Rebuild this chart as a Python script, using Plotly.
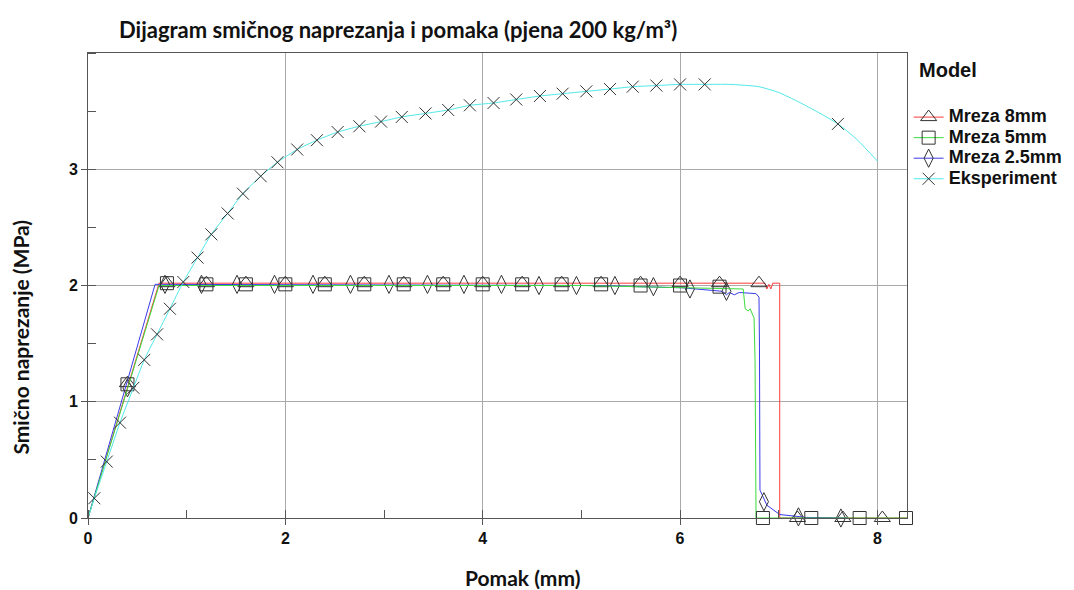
import plotly.graph_objects as go

# ---------------- data ----------------
# Mreza 8mm (red line, triangle markers)
m8_line_x = [0, 0.72, 6.86, 6.88, 6.90, 6.92, 6.94, 6.96, 7.01, 7.01, 8.3]
m8_line_y = [0, 2.02, 2.02, 1.97, 2.01, 1.97, 2.02, 2.02, 2.02, 0.0, 0.0]
m8_mark_x = [0.4, 0.8, 1.2, 1.6, 2.0, 2.4, 2.8, 3.2, 3.6, 4.0, 4.4, 4.8, 5.2, 5.6, 6.0, 6.4, 6.8, 7.19, 7.65, 8.05]
m8_mark_y = [1.16, 2.02, 2.02, 2.02, 2.02, 2.02, 2.02, 2.02, 2.02, 2.02, 2.02, 2.02, 2.02, 2.02, 2.02, 2.02, 2.02, 0.0, 0.0, 0.0]

# Mreza 5mm (green line, square markers)
m5_line_x = [0, 0.72, 5.0, 6.1, 6.64, 6.66, 6.69, 6.71, 6.73, 6.75, 6.76, 6.77, 8.3]
m5_line_y = [0, 2.0, 2.0, 1.98, 1.97, 1.80, 1.78, 1.80, 1.76, 1.72, 1.36, 0.0, 0.0]
m5_mark_x = [0.4, 0.8, 1.2, 1.6, 2.0, 2.4, 2.8, 3.2, 3.6, 4.0, 4.4, 4.8, 5.2, 5.6, 6.0, 6.4, 6.84, 7.33, 7.82, 8.29]
m5_mark_y = [1.15, 2.02, 2.01, 2.01, 2.01, 2.01, 2.01, 2.01, 2.01, 2.01, 2.01, 2.01, 2.01, 2.0, 2.0, 1.99, 0.0, 0.0, 0.0, 0.0]

# Mreza 2.5mm (blue line, diamond markers)
m25_line_x = [0, 0.35, 0.68, 5.2, 6.03, 6.43, 6.47, 6.50, 6.55, 6.60, 6.77, 6.80, 6.805, 6.81, 6.88, 7.01, 7.28, 7.7]
m25_line_y = [0, 1.03, 2.01, 2.0, 1.98, 1.95, 1.92, 1.94, 1.92, 1.94, 1.93, 1.90, 1.47, 0.24, 0.11, 0.03, 0.005, 0.0]
m25_mark_x = [0.4, 0.78, 1.15, 1.51, 1.89, 2.28, 2.66, 3.05, 3.44, 3.81, 4.19, 4.57, 4.95, 5.34, 5.73, 6.10, 6.47, 6.85, 7.2, 7.63]
m25_mark_y = [1.12, 2.01, 2.01, 2.01, 2.01, 2.01, 2.01, 2.01, 2.01, 2.01, 2.01, 2.0, 2.0, 2.0, 1.99, 1.97, 1.95, 0.14, 0.01, 0.0]

# Eksperiment (cyan line, x markers)
exp_line_x = [0, 0.064, 0.19, 0.324, 0.46, 0.57, 0.70, 0.83, 0.966, 1.11, 1.25, 1.415, 1.57, 1.75, 1.92, 2.12,
              2.32, 2.53, 2.75, 2.97, 3.18, 3.42, 3.65, 3.87, 4.11, 4.34, 4.58, 4.81, 5.05, 5.29, 5.52, 5.76,
              6.0, 6.25, 6.5, 6.8, 7.0, 7.2, 7.4, 7.6, 7.8, 8.0]
exp_line_y = [0, 0.17, 0.485, 0.82, 1.12, 1.36, 1.58, 1.80, 2.03, 2.24, 2.44, 2.62, 2.79, 2.94, 3.06, 3.17,
              3.25, 3.32, 3.37, 3.41, 3.45, 3.48, 3.51, 3.55, 3.57, 3.60, 3.63, 3.65, 3.67, 3.69, 3.71, 3.72,
              3.73, 3.73, 3.73, 3.71, 3.66, 3.58, 3.49, 3.39, 3.25, 3.07]
exp_mark_x = [0.064, 0.19, 0.324, 0.46, 0.57, 0.70, 0.83, 0.966, 1.11, 1.25, 1.415, 1.57, 1.75, 1.92, 2.12,
              2.32, 2.53, 2.75, 2.97, 3.18, 3.42, 3.65, 3.87, 4.11, 4.34, 4.58, 4.81, 5.05, 5.29, 5.52, 5.76,
              6.0, 6.25, 7.6]
exp_mark_y = [0.17, 0.485, 0.82, 1.12, 1.36, 1.58, 1.80, 2.03, 2.24, 2.44, 2.62, 2.79, 2.94, 3.06, 3.17,
              3.25, 3.32, 3.37, 3.41, 3.45, 3.48, 3.51, 3.55, 3.57, 3.60, 3.63, 3.65, 3.67, 3.69, 3.71, 3.72,
              3.73, 3.73, 3.39]

series_names = ["Mreza 8mm", "Mreza 5mm", "Mreza 2.5mm", "Eksperiment"]
x_tick_vals = [0, 2, 4, 6, 8]
y_tick_vals = [0, 1, 2, 3]

# ---------------- style ----------------
RED, GREEN, BLUE, CYAN = "#ff3b3b", "#3bdc3b", "#3b3bea", "#4fe8e8"
MK = "#333333"
TITLE_FONT = "Lato, 'Open Sans', sans-serif"
TICK_FONT = "'Liberation Sans', Arial, sans-serif"

fig = go.Figure()

def legend_label(name):
    return "<span style='font-size:18px;font-weight:bold'>" + name + "</span>"

def add_series(name, lx, ly, mx, my, color, symbol, size, rank, spline=False):
    fig.add_trace(go.Scatter(x=lx, y=ly, mode="lines",
                             line=dict(color=color, width=1, shape="spline" if spline else "linear",
                                       smoothing=0.6),
                             showlegend=False, hoverinfo="skip", cliponaxis=False))
    fig.add_trace(go.Scatter(x=mx, y=my, mode="markers", showlegend=False, cliponaxis=False,
                             marker=dict(symbol=symbol, size=size, color=MK,
                                         line=dict(color=MK, width=1))))
    fig.add_trace(go.Scatter(x=[None], y=[None], mode="lines+markers", name=legend_label(name),
                             legendrank=rank,
                             line=dict(color=color, width=1),
                             marker=dict(symbol=symbol, size=size, color=MK,
                                         line=dict(color=MK, width=1))))

add_series(series_names[0], m8_line_x, m8_line_y, m8_mark_x, m8_mark_y, RED, "triangle-up-open", 14, 1)
add_series(series_names[2], m25_line_x, m25_line_y, m25_mark_x, m25_mark_y, BLUE, "diamond-tall-open", 13, 3)
add_series(series_names[1], m5_line_x, m5_line_y, m5_mark_x, m5_mark_y, GREEN, "square-open", 13, 2)
add_series(series_names[3], exp_line_x, exp_line_y, exp_mark_x, exp_mark_y, CYAN, "x-thin-open", 12, 4,
           spline=True)

axis_common = dict(
    showline=True, linecolor="#555555", linewidth=1, mirror=True,
    showgrid=True, gridcolor="#aaaaaa", gridwidth=1,
    ticks="outside", ticklen=6, tickcolor="#555555",
    zeroline=False,
    tickfont=dict(family=TICK_FONT, size=16, color="#111111"),
)

fig.update_xaxes(range=[0, 8.3], tickvals=x_tick_vals, ticktext=["<b>%d</b>" % v for v in x_tick_vals],
                 minor=dict(ticks="inside", ticklen=8, dtick=1, tick0=1, tickcolor="#555555", showgrid=False),
                 **axis_common)
fig.update_yaxes(range=[0, 4.0], tickvals=y_tick_vals, ticktext=["<b>%d</b>" % v for v in y_tick_vals],
                 minor=dict(ticks="inside", ticklen=8, dtick=0.5, tick0=0.5, tickcolor="#555555", showgrid=False),
                 **axis_common)

# page body has an 8px margin -> figure is 8px smaller and everything shifted by 8px
W, H = 1066, 582
fig.update_layout(
    width=W, height=H,
    margin=dict(l=80, r=167, t=45, b=72, autoexpand=False),
    paper_bgcolor="white", plot_bgcolor="white",
    title=dict(text="<b>Dijagram smičnog naprezanja i pomaka (pjena 200 kg/m³)</b>",
               x=(119 - 8) / W, xanchor="left", y=1 - (30 - 8) / H, yanchor="middle",
               font=dict(family=TITLE_FONT, size=22, color="#111111")),
    legend=dict(x=1.002, xanchor="left", y=0.895, yanchor="top",
                font=dict(family=TICK_FONT, size=13.5, color="#111111"),
                bgcolor="rgba(0,0,0,0)", tracegroupgap=0, itemwidth=30),
    showlegend=True,
    annotations=[
        dict(text="<b>Model</b>", x=1.012, y=0.963, xref="paper", yref="paper",
             xanchor="left", yanchor="middle", showarrow=False,
             font=dict(family=TICK_FONT, size=20, color="#111111")),
        dict(text="<b>Pomak (mm)</b>", x=0.53, y=-0.128, xref="paper", yref="paper",
             xanchor="center", yanchor="middle", showarrow=False,
             font=dict(family=TITLE_FONT, size=21, color="#111111")),
        dict(text="<b>Smično naprezanje (MPa)</b>", x=-0.0825, y=0.389, xref="paper", yref="paper",
             xanchor="center", yanchor="middle", showarrow=False, textangle=-90,
             font=dict(family=TITLE_FONT, size=21, color="#111111")),
    ],
)

fig.write_html("out.html")
